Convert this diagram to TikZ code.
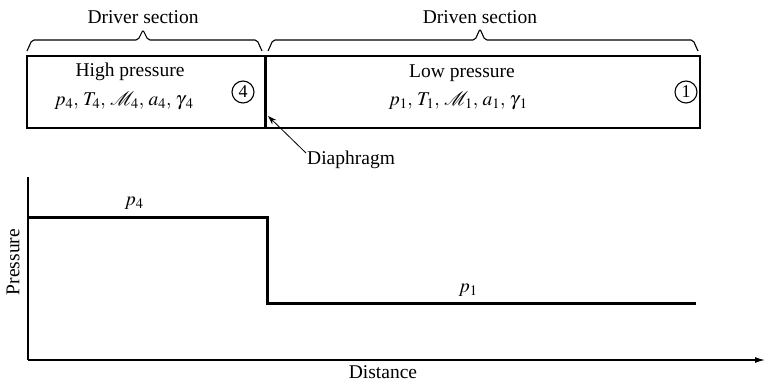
\documentclass[tikz,border=0pt]{standalone}
\usepackage{mathptmx}
\usepackage{fontspec}
\setmainfont{Liberation Serif}
\usetikzlibrary{arrows.meta}
\begin{document}
\begin{tikzpicture}[x=1pt,y=-1pt,
  lbl/.style={font=\fontsize{19.5}{22}\selectfont, inner sep=0pt},
  tube/.style={line width=1.8pt},
  brace/.style={line width=1.1pt, rounded corners=2pt},
  curve/.style={line width=3pt},
  axis/.style={line width=1.3pt},
  ring/.style={circle, draw, line width=1.1pt, minimum size=22pt, inner sep=0pt, font=\fontsize{18}{20}\selectfont}]
\useasboundingbox (0,0) rectangle (765,382);
% tube
\draw[tube] (27,56) rectangle (700,128);
\draw[line width=3pt] (265,56) coordinate (dtop) -- (265,128) coordinate (dbot);
% braces
\draw[brace] (27,51) -- (32,40) -- (138,40) -- (143,30) -- (148,40) -- (257,40) -- (262,51);
\draw[brace] (268,51) -- (273,40) -- (475,40) -- (480,29) -- (485,40) -- (693,40) -- (698,51);
\node[lbl] (drv) at (143,17) {Driver section};
\node[lbl] (dvn) at (480,17) {Driven section};
% contents
\node[lbl] (hp) at (130,72) {High pressure};
\node[lbl] (hv) at (124,101) {$p_{4},\, T_{4},\, \mathcal{M}_{4},\, a_{4},\, \gamma_{\kern2pt 4}$};
\node[ring] (c4) at (243,92) {4};
\node[lbl] (lp) at (462,73) {Low pressure};
\node[lbl] (lv) at (458,101) {$p_{1},\, T_{1},\, \mathcal{M}_{1},\, a_{1},\, \gamma_{\kern2pt 1}$};
\node[ring] (c1) at (686,92) {1};
% diaphragm
\node[lbl, anchor=west] (dia) at (307,160) {Diaphragm};
\coordinate (dtip) at (268,116);
\draw[line width=0.8pt, -{Stealth[length=9pt,width=6pt]}] (dia.west) ++(-1,-7) coordinate (dstart) -- (dtip);
% axes
\coordinate (orig) at (28,360);
\coordinate (ytop) at (28,177);
\coordinate (xend) at (765,360);
\draw[axis] (ytop) -- (orig);
\draw[axis, -{Latex[length=10pt,width=6pt]}] (orig) -- (xend);
\node[lbl, rotate=90] (ylab) at (13,262) {Pressure};
\node[lbl] (xlab) at (383,372) {Distance};
% pressure curve
\draw[curve] (28,217) -- (267,217) -- (267,303) -- (696,303);
\node[lbl] (p4) at (134,203) {$p_{4}$};
\node[lbl] (p1) at (468,290) {$p_{1}$};
\end{tikzpicture}
\end{document}
